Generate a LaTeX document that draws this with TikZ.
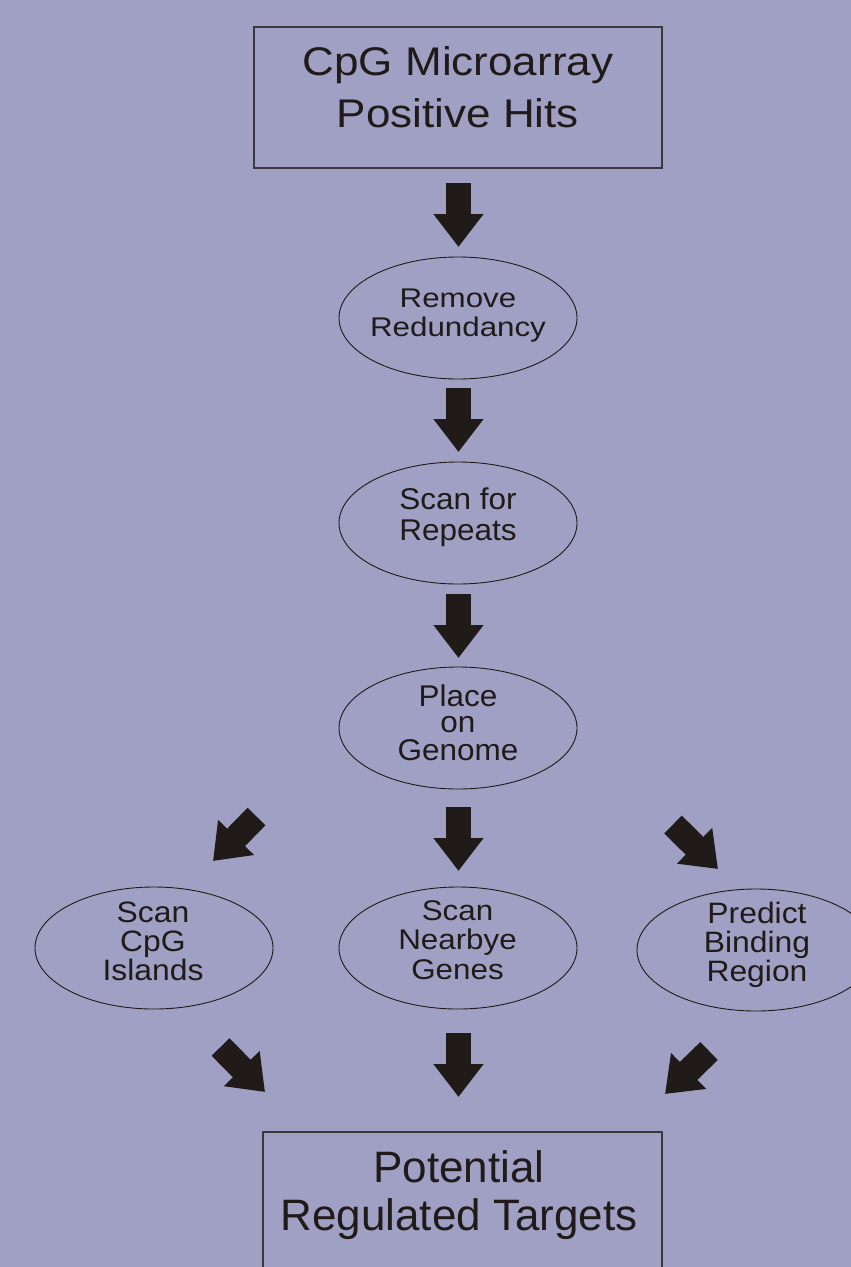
\documentclass[tikz,border=0pt]{standalone}
\usepackage{fontspec}
\setmainfont{Liberation Sans}
\usepackage{graphicx}
\usetikzlibrary{arrows.meta,shapes.geometric}
\definecolor{bg}{RGB}{160,160,196}
\definecolor{ink}{RGB}{32,26,24}
\definecolor{frame}{RGB}{58,56,60}
\newcommand{\txtblock}[4]{\scalebox{#1}[1]{\fontsize{#2}{#3}\selectfont\begin{tabular}{@{}c@{}}#4\end{tabular}}}
\begin{document}
\begin{tikzpicture}[x=1pt,y=-1pt,
  box/.style={draw=frame, line width=1.3pt, rectangle, inner sep=0pt},
  oval/.style={draw=ink, line width=0.9pt, ellipse, minimum width=238pt, minimum height=122pt, inner sep=0pt},
  txt/.style={text=ink, inner sep=0pt, outer sep=0pt},
  blockarrow/.style={draw=ink, line width=25pt, line cap=butt, -{Triangle[width=48pt,length=33pt]}}
]
\useasboundingbox (0,0) rectangle (851,1267);
\fill[bg] (0,0) rectangle (851,1267);
\clip (0,0) rectangle (851,1267);

% boxes
\node[box, minimum width=408pt, minimum height=141pt] (top) at (458,97.5) {};
\node[txt] (topT) at (458,90.6) {\txtblock{1.1}{40}{52}{CpG Microarray\\Positive Hits}};

\node[box, minimum width=399pt, minimum height=160pt] (bottom) at (462.5,1212) {};
\node[txt] (bottomT) at (459,1196.4) {\txtblock{1.0}{44}{48}{Potential\\Regulated Targets}};

% ellipses
\node[oval] (remove) at (458,318) {};
\node[txt] (removeT) at (458,315.7) {\txtblock{1.16}{27}{29}{Remove\\Redundancy}};

\node[oval] (repeats) at (458,523) {};
\node[txt] (repeatsT) at (458,518.3) {\txtblock{1.05}{30}{31}{Scan for\\Repeats}};

\node[oval] (place) at (458,728) {};
\node[txt] (placeT) at (458,726.4) {\txtblock{1.05}{30}{26}{Place\\on\\Genome}};

\node[oval] (cpg) at (154,948) {};
\node[txt] (cpgT) at (153,945.2) {\txtblock{1.08}{29.5}{26.5}{Scan\\CpG\\Islands}};

\node[oval] (nearbye) at (458,948) {};
\node[txt] (nearbyeT) at (457.5,943.6) {\txtblock{1.1}{28.5}{29.5}{Scan\\Nearbye\\Genes}};

\node[oval] (predict) at (756,950) {};
\node[txt] (predictT) at (757,945.8) {\txtblock{1.08}{29.5}{26}{Predict\\Binding\\Region}};

% arrow end points
\coordinate (a1s) at (458.5,183);  \coordinate (a1e) at (458.5,247);
\coordinate (a2s) at (458.5,388);  \coordinate (a2e) at (458.5,452);
\coordinate (a3s) at (458.5,594);  \coordinate (a3e) at (458.5,658);
\coordinate (a4s) at (458.5,807);  \coordinate (a4e) at (458.5,871);
\coordinate (a5s) at (458.5,1033); \coordinate (a5e) at (458.5,1097);
\coordinate (d1s) at (256.5,816.5); \coordinate (d1e) at (213,861);
\coordinate (d2s) at (673,824.5);   \coordinate (d2e) at (718,869);
\coordinate (d3s) at (220.5,1047);  \coordinate (d3e) at (265,1092);
\coordinate (d4s) at (709,1051);    \coordinate (d4e) at (665,1094);

\draw[blockarrow] (a1s) -- (a1e);
\draw[blockarrow] (a2s) -- (a2e);
\draw[blockarrow] (a3s) -- (a3e);
\draw[blockarrow] (a4s) -- (a4e);
\draw[blockarrow] (a5s) -- (a5e);
\draw[blockarrow] (d1s) -- (d1e);
\draw[blockarrow] (d2s) -- (d2e);
\draw[blockarrow] (d3s) -- (d3e);
\draw[blockarrow] (d4s) -- (d4e);
\end{tikzpicture}
\end{document}
